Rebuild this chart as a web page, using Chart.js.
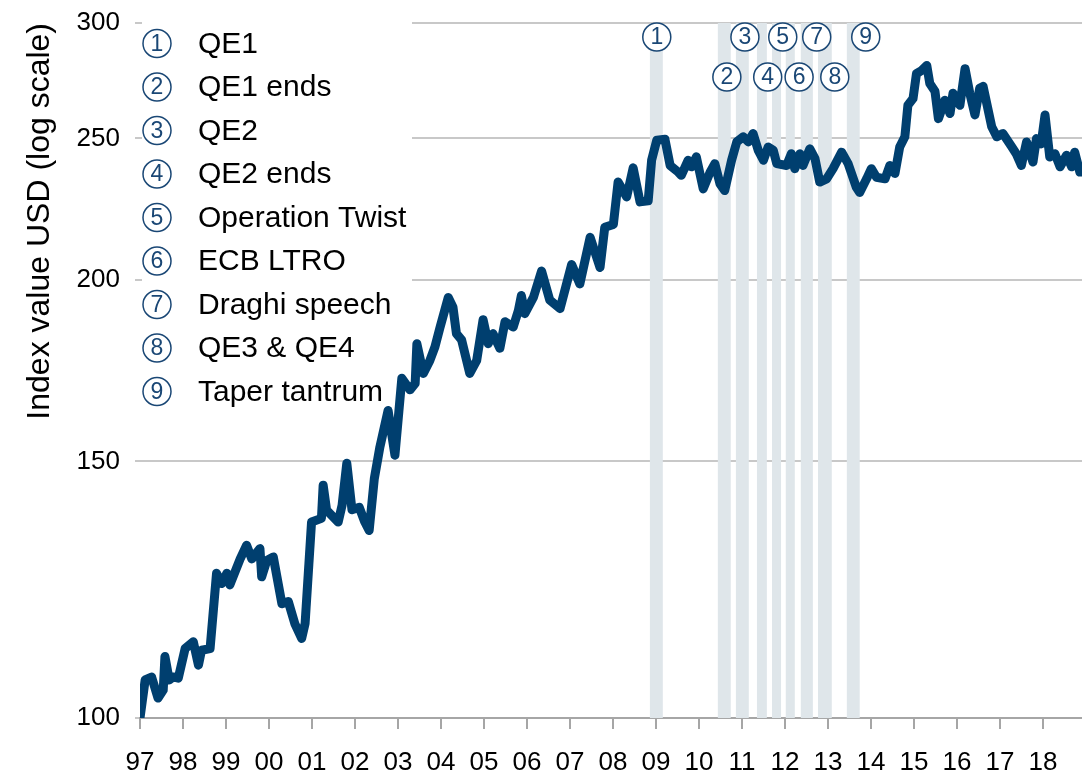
<!DOCTYPE html>
<html>
<head>
<meta charset="utf-8">
<script src="https://cdn.jsdelivr.net/npm/chart.js@4.4.1/dist/chart.umd.min.js"></script>
<style>
  html, body { margin: 0; padding: 0; background: #fff; }
  #wrap { width: 1082px; height: 774px; }
</style>
</head>
<body>
<div id="wrap"><canvas id="chart" width="1082" height="774"></canvas></div>
<script>
// Index value (USD, log scale)

const dates = [
    1997.00, 1997.12, 1997.27, 1997.42, 1997.54, 1997.58, 1997.68, 1997.77, 1997.89,
    1998.05, 1998.24, 1998.36, 1998.43, 1998.63, 1998.78, 1998.90,
    1999.02, 1999.09, 1999.21, 1999.33, 1999.48, 1999.60, 1999.79, 1999.83, 1999.95,
    2000.10, 2000.30, 2000.45, 2000.60, 2000.76, 2000.84, 2000.99,
    2001.22, 2001.26, 2001.34, 2001.61, 2001.70, 2001.81, 2001.93,
    2002.10, 2002.22, 2002.33, 2002.45, 2002.58, 2002.77, 2002.93,
    2003.09, 2003.28, 2003.40, 2003.44, 2003.59, 2003.74, 2003.86, 2003.98,
    2004.17, 2004.28, 2004.36, 2004.48, 2004.67, 2004.83, 2004.98,
    2005.10, 2005.21, 2005.37, 2005.49, 2005.68, 2005.80, 2005.87, 2005.95,
    2006.15, 2006.34, 2006.53, 2006.77,
    2007.04, 2007.23, 2007.47, 2007.70, 2007.81,
    2008.01, 2008.12, 2008.32, 2008.47, 2008.63, 2008.82, 2008.90,
    2009.02, 2009.21, 2009.33, 2009.52, 2009.59, 2009.75, 2009.83, 2009.94,
    2010.10, 2010.26, 2010.37, 2010.49, 2010.60, 2010.76, 2010.88,
    2011.03, 2011.15, 2011.26, 2011.38, 2011.50, 2011.61, 2011.73, 2011.81,
    2012.04, 2012.15, 2012.23, 2012.35, 2012.42, 2012.58, 2012.70, 2012.81, 2012.97,
    2013.12, 2013.32, 2013.47, 2013.66, 2013.74, 2013.90,
    2014.01, 2014.13, 2014.33, 2014.44, 2014.56, 2014.67, 2014.79, 2014.86, 2014.98,
    2015.06, 2015.18, 2015.30, 2015.37, 2015.49, 2015.57, 2015.72, 2015.84, 2015.91,
    2016.07, 2016.19, 2016.30, 2016.42, 2016.53, 2016.61, 2016.81, 2016.93,
    2017.07, 2017.26, 2017.38, 2017.50, 2017.62, 2017.77, 2017.85, 2017.96,
    2018.05, 2018.16, 2018.28, 2018.40, 2018.55, 2018.67, 2018.74, 2018.86, 2018.91
];

const indexValues = [
    100.0, 106.2, 106.7, 103.2, 104.5, 110.2, 106.2, 106.7, 106.5,
    111.6, 112.8, 108.7, 111.3, 111.6, 125.7, 123.7,
    125.7, 123.4, 126.0, 128.6, 131.4, 128.6, 130.7, 125.0, 128.3,
    129.0, 119.8, 120.2, 116.1, 113.4, 116.1, 136.3,
    137.1, 144.5, 138.9, 136.3, 140.0, 149.6, 139.0,
    139.5, 136.5, 134.5, 146.0, 153.5, 162.6, 151.5,
    171.1, 168.0, 169.7, 180.7, 172.4, 175.9, 179.8, 185.5,
    194.4, 191.4, 183.6, 181.8, 172.4, 175.9, 187.7,
    180.7, 183.6, 179.4, 187.1, 185.5, 190.4, 195.0, 189.5,
    194.4, 202.7, 193.6, 191.0,
    204.8, 198.6, 213.8, 203.8, 217.2,
    218.2, 233.3, 227.9, 238.6, 226.1, 226.5, 241.5,
    249.3, 249.6, 239.5, 237.0, 235.8, 241.5, 239.0, 242.8,
    230.8, 237.0, 240.2, 232.6, 230.2, 241.5, 248.6,
    250.6, 248.6, 251.9, 245.3, 241.5, 246.6, 245.3, 240.2,
    239.5, 244.0, 238.3, 244.0, 239.5, 245.9, 242.1, 233.3, 234.5,
    238.3, 244.6, 240.2, 231.4, 229.5, 234.5,
    238.3, 235.1, 234.5, 239.5, 236.5, 246.6, 250.6, 263.4, 266.2,
    276.9, 278.3, 280.5, 272.6, 269.3, 257.9, 265.5, 260.0, 268.5,
    263.4, 279.1, 268.5, 259.4, 270.6, 271.4, 254.6, 250.6,
    251.9, 247.1, 244.0, 239.5, 248.6, 240.8, 249.9, 247.8,
    259.4, 242.7, 244.0, 239.0, 243.4, 239.0, 244.6, 237.0, 237.0
];

const tickYears = [1997, 1998, 1999, 2000, 2001, 2002, 2003, 2004, 2005, 2006, 2007,
    2008, 2009, 2010, 2011, 2012, 2013, 2014, 2015, 2016, 2017, 2018];
const tickYearLabels = ['97', '98', '99', '00', '01', '02', '03', '04', '05', '06', '07',
    '08', '09', '10', '11', '12', '13', '14', '15', '16', '17', '18'];
const yTickValues = [100, 150, 200, 250, 300];

// Policy events: shaded periods and their numbered markers
const eventNames = ['QE1', 'QE1 ends', 'QE2', 'QE2 ends', 'Operation Twist',
    'ECB LTRO', 'Draghi speech', 'QE3 & QE4', 'Taper tantrum'];
const eventStart = [2008.86, 2010.44, 2010.86, 2011.35, 2011.70, 2012.02, 2012.37, 2012.77, 2013.44];
const eventEnd = [2009.16, 2010.74, 2011.16, 2011.58, 2011.91, 2012.23, 2012.65, 2013.09, 2013.74];
const markerAt = [2009.02, 2010.65, 2011.07, 2011.60, 2011.95, 2012.33, 2012.74, 2013.16, 2013.88];

const LINE_BLUE = '#003f6f';
const MARK_BLUE = '#1a4775';
const BAND = '#dfe6ea';
const FONT = "'Liberation Sans', Arial, sans-serif";

function drawMarker(ctx, cx, cy, num) {
    ctx.save();
    ctx.beginPath();
    ctx.arc(cx, cy, 14, 0, Math.PI * 2);
    ctx.fillStyle = '#fff';
    ctx.fill();
    ctx.lineWidth = 1.5;
    ctx.strokeStyle = MARK_BLUE;
    ctx.stroke();
    ctx.fillStyle = MARK_BLUE;
    ctx.font = '23px ' + FONT;
    ctx.textAlign = 'center';
    ctx.textBaseline = 'middle';
    ctx.fillText(String(num), cx, cy + 1);
    ctx.restore();
}

const eventPlugin = {
    id: 'events',
    beforeDatasetsDraw(chart) {
        const { ctx, chartArea, scales } = chart;
        ctx.save();

        // shaded bands
        ctx.fillStyle = BAND;
        eventStart.forEach((s, i) => {
            const x0 = scales.x.getPixelForValue(s);
            const x1 = scales.x.getPixelForValue(eventEnd[i]);
            ctx.fillRect(x0, chartArea.top, x1 - x0, chartArea.bottom - chartArea.top);
        });

        // key box in the top-left corner
        ctx.fillStyle = '#fff';
        ctx.fillRect(chartArea.left + 2, chartArea.top - 3, 270, 390);
        eventNames.forEach((name, i) => {
            const y = chartArea.top + 20.5 + i * 43.5;
            drawMarker(ctx, chartArea.left + 17, y, i + 1);
            ctx.fillStyle = '#000';
            ctx.font = '30px ' + FONT;
            ctx.textBaseline = 'middle';
            ctx.textAlign = 'left';
            ctx.fillText(name, chartArea.left + 58, y + 1);
        });
        ctx.restore();
    },
    afterDatasetsDraw(chart) {
        const { ctx, chartArea, scales } = chart;
        markerAt.forEach((v, i) => {
            const cx = scales.x.getPixelForValue(v);
            const cy = chartArea.top + (i % 2 === 0 ? 14 : 54);
            drawMarker(ctx, cx, cy, i + 1);
        });
    }
};

const ctx = document.getElementById('chart').getContext('2d');

new Chart(ctx, {
    type: 'line',
    data: {
        datasets: [{
            label: 'Index value USD',
            data: dates.map((d, i) => ({ x: d, y: indexValues[i] })),
            borderColor: LINE_BLUE,
            backgroundColor: LINE_BLUE,
            borderWidth: 9,
            borderJoinStyle: 'round',
            pointRadius: 0,
            tension: 0
        }]
    },
    options: {
        responsive: false,
        animation: false,
        devicePixelRatio: 1,
        layout: { padding: { top: 23, right: 0, left: 0, bottom: 0 } },
        plugins: {
            legend: { display: false },
            tooltip: { enabled: false }
        },
        scales: {
            x: {
                type: 'linear',
                min: 1997,
                max: 2018.91,
                afterBuildTicks: scale => {
                    scale.ticks = tickYears.map(v => ({ value: v }));
                },
                afterFit: scale => {
                    scale.height = 56;
                    scale.paddingLeft = 0;
                    scale.paddingRight = 0;
                },
                ticks: {
                    callback: (value, index) => tickYearLabels[index],
                    color: '#000',
                    font: { family: FONT, size: 26 },
                    padding: 18,
                    maxRotation: 0,
                    autoSkip: false
                },
                grid: {
                    drawOnChartArea: false,
                    drawTicks: true,
                    tickLength: 11,
                    color: '#a6a6a6',
                    lineWidth: 2
                },
                border: { display: true, color: '#a6a6a6', width: 2 }
            },
            y: {
                type: 'logarithmic',
                min: 100,
                max: 300,
                afterBuildTicks: scale => {
                    scale.ticks = yTickValues.map(v => ({ value: v }));
                },
                afterFit: scale => {
                    scale.width = 140;
                    scale.paddingTop = 0;
                    scale.paddingBottom = 0;
                },
                ticks: {
                    callback: value => String(value),
                    color: '#000',
                    font: { family: FONT, size: 26 },
                    padding: 15
                },
                grid: {
                    color: '#c8c8c8',
                    lineWidth: 2,
                    drawTicks: true,
                    tickLength: 5
                },
                border: { display: false },
                title: {
                    display: true,
                    text: 'Index value USD (log scale)',
                    align: 'end',
                    color: '#000',
                    font: { family: FONT, size: 32 },
                    padding: { top: 21, bottom: 0 }
                }
            }
        }
    },
    plugins: [eventPlugin]
});
</script>
</body>
</html>
